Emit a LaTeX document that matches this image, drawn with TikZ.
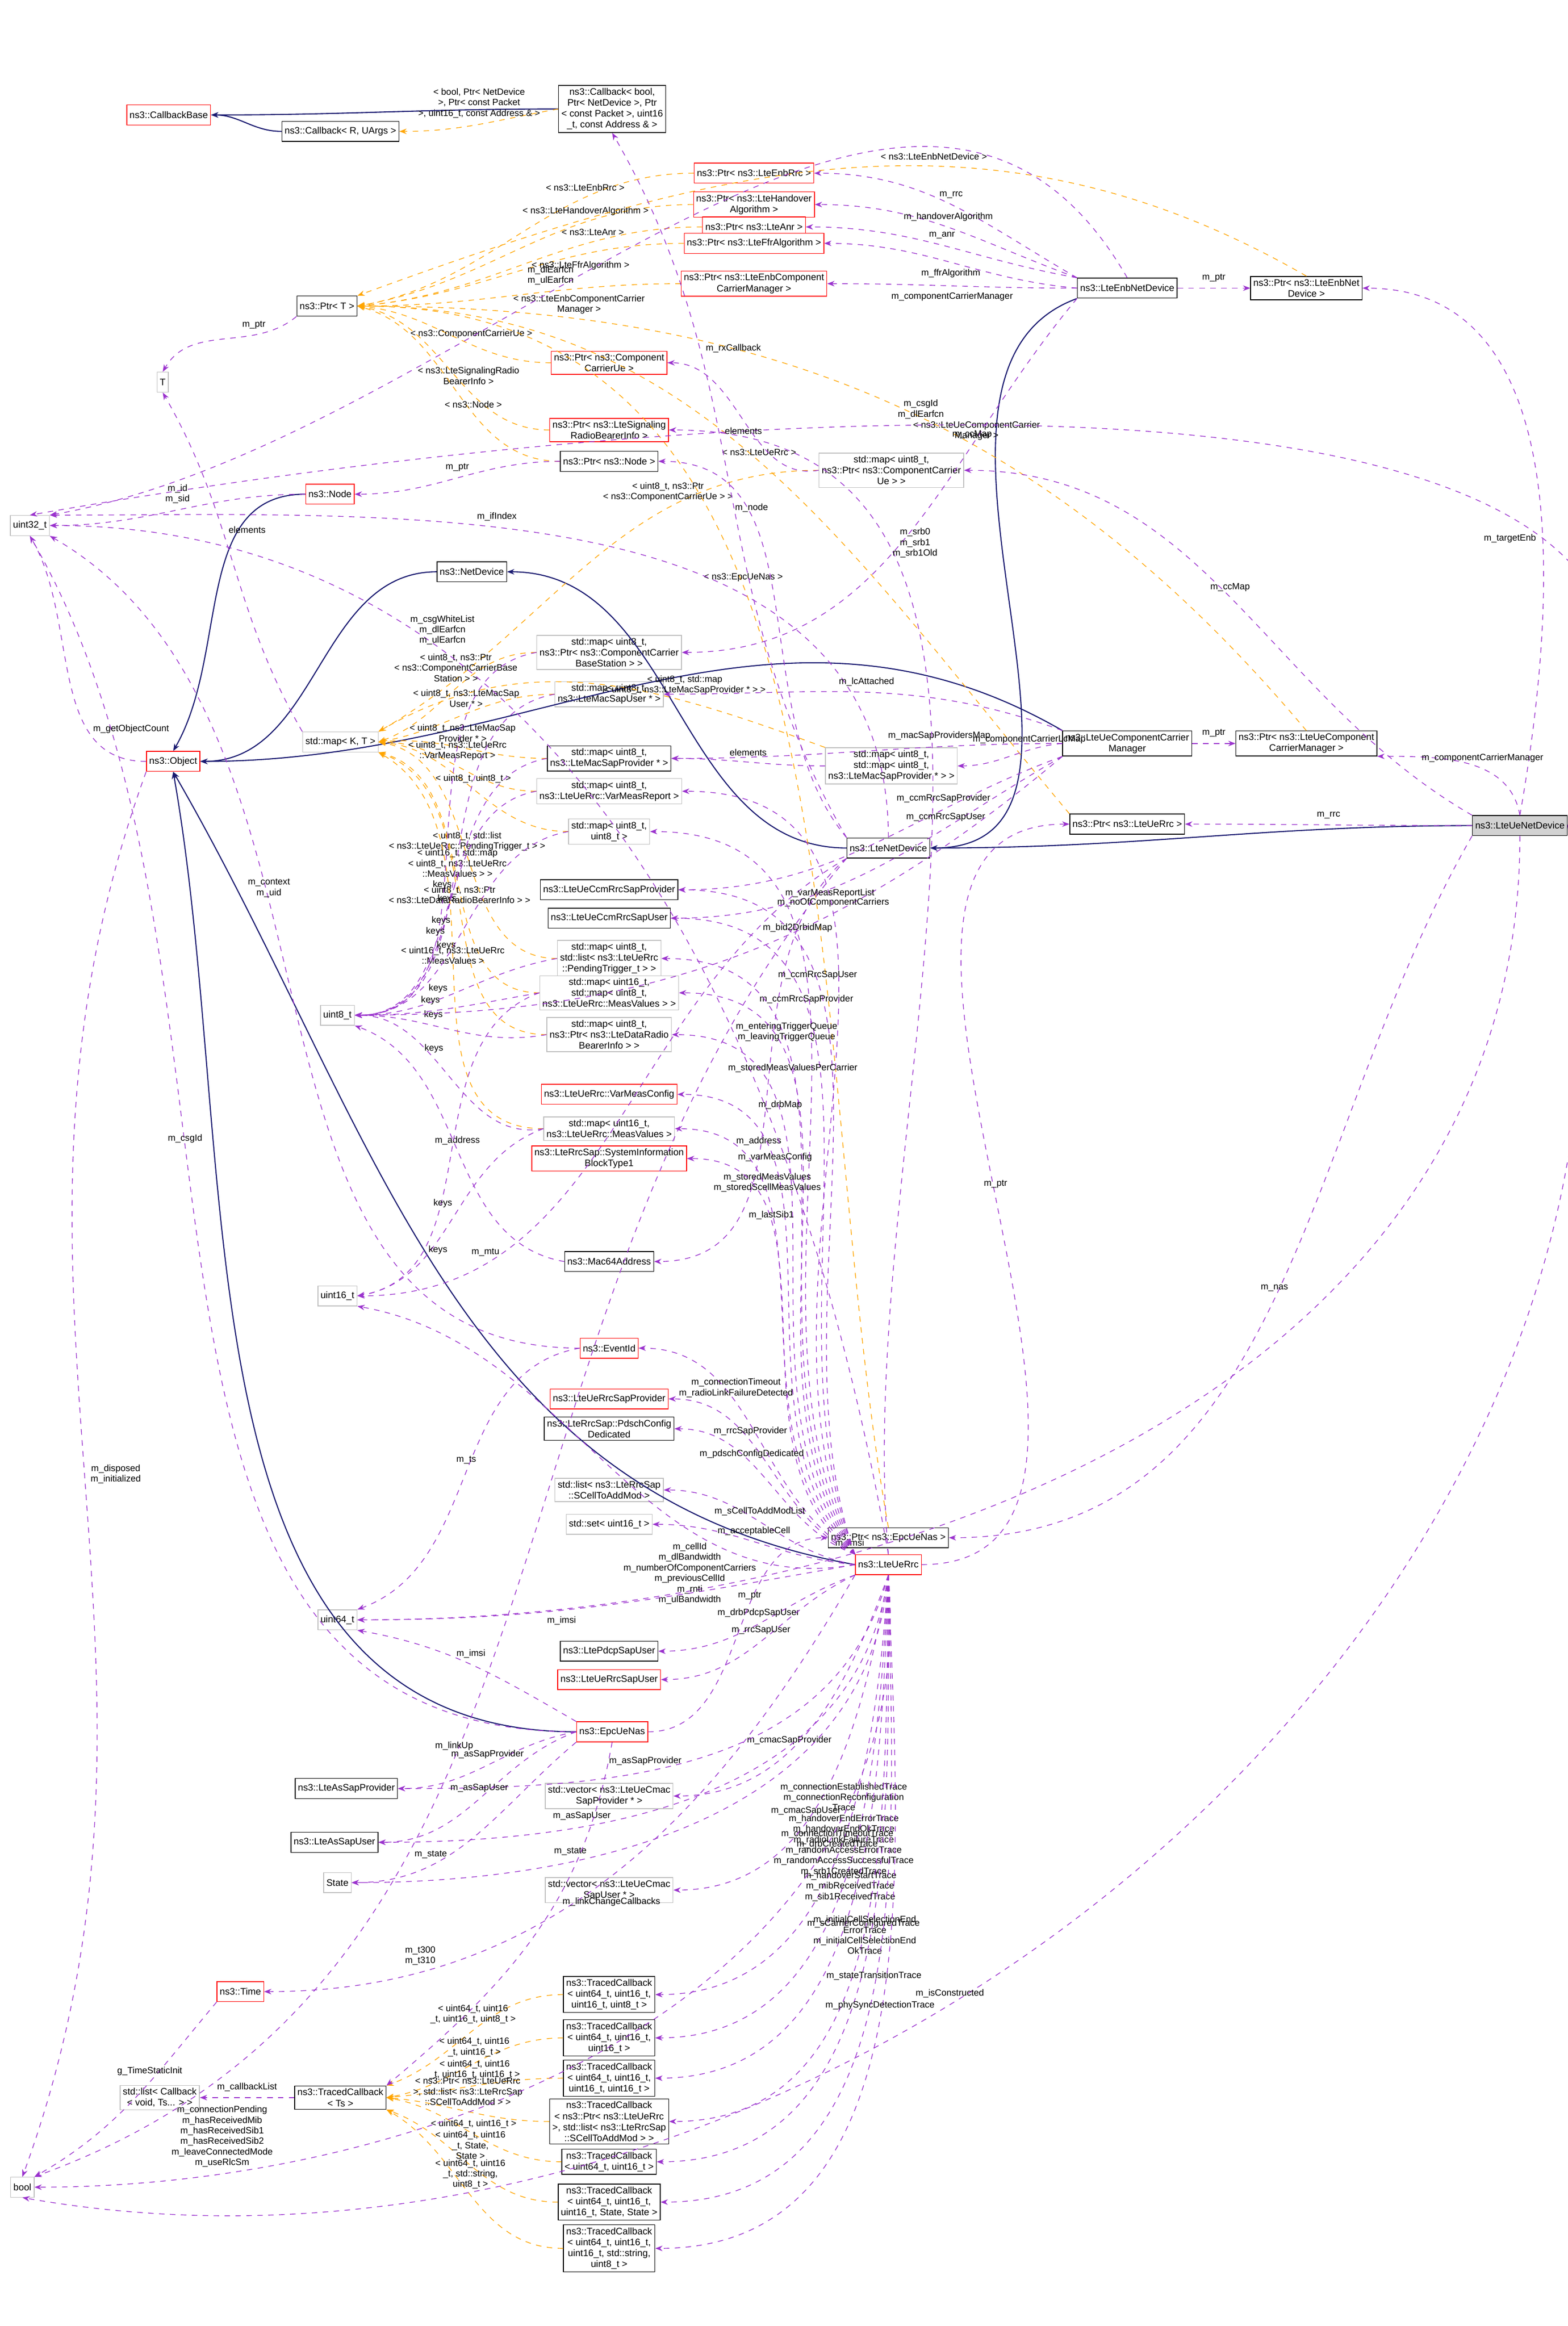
\documentclass[tikz,border=0pt]{standalone}
\usepackage{fontspec}
\setmainfont{Liberation Sans}
\definecolor{dxPurple}{HTML}{9A32CD}
\definecolor{dxOrange}{HTML}{FFA500}
\definecolor{dxBlue}{HTML}{191970}
\definecolor{dxGrey}{HTML}{BFBFBF}
\usetikzlibrary{arrows.meta,positioning}

\begin{document}
\begin{tikzpicture}[x=0.02883cm, y=-0.02883cm,
  cls/.style={draw=black, fill=white, font=\fontsize{5.2}{6}\selectfont, align=center, inner sep=1.5pt, minimum height=11},
  undoc/.style={cls, draw=red},
  ext/.style={cls, draw=dxGrey},
  self/.style={cls, fill=dxGrey!70},
  lab/.style={font=\fontsize{5}{5.8}\selectfont, align=center, text=black},
  membr/.style={-{Stealth[length=4pt]}, dashed, color=dxPurple, thin},
  tmpl/.style={-{Stealth[length=4pt]}, dashed, color=dxOrange, thin},
  inh/.style={-{Stealth[length=4pt,open]}, color=dxBlue, semithick}
]
  \useasboundingbox (0,0) rectangle (1050,1558);
  % ---- left column
  \node[ext] (u32) at (20,352) {uint32\_t};
  \node[ext] (bool) at (15,1465) {bool};
  \node[ext] (T) at (109,256) {T};
  \node[undoc] (cbbase) at (113,77) {ns3::CallbackBase};
  \node[cls] (cbT) at (228,88) {ns3::Callback< R, UArgs >};
  \node[cls] (cbBool) at (410,73) {ns3::Callback< bool,\\ Ptr< NetDevice >, Ptr\\< const Packet >, uint16\\\_t, const Address \& >};
  \node[cls] (ptrT) at (219,205) {ns3::Ptr< T >};
  \node[undoc] (node) at (221,331) {ns3::Node};
  \node[cls] (netdev) at (316,383) {ns3::NetDevice};
  \node[undoc] (object) at (116,510) {ns3::Object};
  \node[ext] (mapKT) at (228,497) {std::map< K, T >};
  \node[ext] (u8) at (226,680) {uint8\_t};
  \node[ext] (u16) at (226,868) {uint16\_t};
  \node[ext] (u64) at (226,1085) {uint64\_t};
  \node[cls] (asprov) at (232,1198) {ns3::LteAsSapProvider};
  \node[cls] (asuser) at (224,1234) {ns3::LteAsSapUser};
  \node[ext] (state) at (226,1261) {State};
  \node[undoc] (time) at (161,1334) {ns3::Time};
  \node[ext] (cblist) at (107,1405) {std::list< Callback\\< void, Ts... > >};
  \node[cls] (traced) at (228,1405) {ns3::TracedCallback\\< Ts >};
  % ---- middle column
  \node[undoc] (pEnbRrc) at (505,116) {ns3::Ptr< ns3::LteEnbRrc >};
  \node[undoc] (pHo) at (505,137) {ns3::Ptr< ns3::LteHandover\\Algorithm >};
  \node[undoc] (pAnr) at (505,152) {ns3::Ptr< ns3::LteAnr >};
  \node[undoc] (pFfr) at (505,163) {ns3::Ptr< ns3::LteFfrAlgorithm >};
  \node[undoc] (pEnbCcm) at (505,190) {ns3::Ptr< ns3::LteEnbComponent\\CarrierManager >};
  \node[undoc] (pCcUe) at (408,243) {ns3::Ptr< ns3::Component\\CarrierUe >};
  \node[undoc] (pSrb) at (408,288) {ns3::Ptr< ns3::LteSignaling\\RadioBearerInfo >};
  \node[cls] (pNode) at (408,309) {ns3::Ptr< ns3::Node >};
  \node[ext] (mCcUe) at (597,315) {std::map< uint8\_t,\\ ns3::Ptr< ns3::ComponentCarrier\\Ue > >};
  \node[ext] (mCcBs) at (408,437) {std::map< uint8\_t,\\ ns3::Ptr< ns3::ComponentCarrier\\BaseStation > >};
  \node[ext] (mMacUser) at (408,465) {std::map< uint8\_t,\\ ns3::LteMacSapUser * >};
  \node[cls] (mMacProv) at (408,508) {std::map< uint8\_t,\\ ns3::LteMacSapProvider * >};
  \node[ext] (mMap) at (597,513) {std::map< uint8\_t,\\ std::map< uint8\_t,\\ ns3::LteMacSapProvider * > >};
  \node[ext] (mVmr) at (408,530) {std::map< uint8\_t,\\ ns3::LteUeRrc::VarMeasReport >};
  \node[ext] (m88) at (408,557) {std::map< uint8\_t,\\ uint8\_t >};
  \node[cls] (ccmProv) at (408,596) {ns3::LteUeCcmRrcSapProvider};
  \node[cls] (ccmUser) at (408,615) {ns3::LteUeCcmRrcSapUser};
  \node[ext] (mPend) at (408,642) {std::map< uint8\_t,\\ std::list< ns3::LteUeRrc\\::PendingTrigger\_t > >};
  \node[ext] (mMeas16) at (408,665) {std::map< uint16\_t,\\ std::map< uint8\_t,\\ ns3::LteUeRrc::MeasValues > >};
  \node[ext] (mDrb) at (408,693) {std::map< uint8\_t,\\ ns3::Ptr< ns3::LteDataRadio\\BearerInfo > >};
  \node[undoc] (vmc) at (408,733) {ns3::LteUeRrc::VarMeasConfig};
  \node[ext] (mMeas) at (408,756) {std::map< uint16\_t,\\ ns3::LteUeRrc::MeasValues >};
  \node[undoc] (sib1) at (408,776) {ns3::LteRrcSap::SystemInformation\\BlockType1};
  \node[cls] (mac64) at (408,845) {ns3::Mac64Address};
  \node[undoc] (evid) at (408,903) {ns3::EventId};
  \node[undoc] (rrcProv) at (408,937) {ns3::LteUeRrcSapProvider};
  \node[cls] (pdsch) at (408,957) {ns3::LteRrcSap::PdschConfig\\Dedicated};
  \node[ext] (scList) at (408,998) {std::list< ns3::LteRrcSap\\::SCellToAddMod >};
  \node[ext] (set16) at (408,1021) {std::set< uint16\_t >};
  \node[cls] (pdcpUser) at (408,1106) {ns3::LtePdcpSapUser};
  \node[undoc] (rrcUser) at (408,1125) {ns3::LteUeRrcSapUser};
  \node[undoc] (nas) at (410,1160) {ns3::EpcUeNas};
  \node[ext] (vCmacP) at (408,1203) {std::vector< ns3::LteUeCmac\\SapProvider * >};
  \node[ext] (vCmacU) at (408,1266) {std::vector< ns3::LteUeCmac\\SapUser * >};
  \node[cls] (tc1) at (408,1336) {ns3::TracedCallback\\< uint64\_t, uint16\_t,\\ uint16\_t, uint8\_t >};
  \node[cls] (tc2) at (408,1365) {ns3::TracedCallback\\< uint64\_t, uint16\_t,\\ uint16\_t >};
  \node[cls] (tc3) at (408,1392) {ns3::TracedCallback\\< uint64\_t, uint16\_t,\\ uint16\_t, uint16\_t >};
  \node[cls] (tc4) at (408,1421) {ns3::TracedCallback\\< ns3::Ptr< ns3::LteUeRrc\\ >, std::list< ns3::LteRrcSap\\::SCellToAddMod > >};
  \node[cls] (tc5) at (408,1448) {ns3::TracedCallback\\< uint64\_t, uint16\_t >};
  \node[cls] (tc6) at (408,1475) {ns3::TracedCallback\\< uint64\_t, uint16\_t,\\ uint16\_t, State, State >};
  \node[cls] (tc7) at (408,1506) {ns3::TracedCallback\\< uint64\_t, uint16\_t,\\ uint16\_t, std::string,\\ uint8\_t >};
  % ---- right columns
  \node[cls] (enbdev) at (755,193) {ns3::LteEnbNetDevice};
  \node[cls] (pEnbDev) at (875,193) {ns3::Ptr< ns3::LteEnbNet\\Device >};
  \node[cls] (ueccm) at (755,498) {ns3::LteUeComponentCarrier\\Manager};
  \node[cls] (pUeCcm) at (875,498) {ns3::Ptr< ns3::LteUeComponent\\CarrierManager >};
  \node[cls] (pUeRrc) at (755,552) {ns3::Ptr< ns3::LteUeRrc >};
  \node[cls] (ltedev) at (595,568) {ns3::LteNetDevice};
  \node[cls] (pNas) at (595,1030) {ns3::Ptr< ns3::EpcUeNas >};
  \node[undoc] (uerrc) at (595,1048) {ns3::LteUeRrc};
  \node[self] (uedev) at (1018,553) {ns3::LteUeNetDevice};
  % ---- inheritance
  \draw[inh] (uedev.west) to[out=180,in=0] (ltedev.east);
  \draw[inh] (enbdev.south west) to[out=200,in=0] (ltedev.east);
  \draw[inh] (ltedev.west) to[out=180,in=0] (netdev.east);
  \draw[inh] (netdev.west) to[out=180,in=0] (object.east);
  \draw[inh] (node.west) to[out=180,in=60] (object.north);
  \draw[inh] (ueccm.north west) to[out=150,in=0] (object.east);
  \draw[inh] (uerrc.west) to[out=170,in=-60] (object.south);
  \draw[inh] (nas.west) to[out=180,in=-80] (object.south);
  \draw[inh] (cbT.west) to[out=180,in=0] (cbbase.east);
  \draw[inh] (cbBool.west) to[out=180,in=0] (cbbase.east);
  % ---- template instances
  \draw[tmpl] (cbBool.west) to[out=190,in=0] node[lab,above]{< bool, Ptr< NetDevice\\ >, Ptr< const Packet\\ >, uint16\_t, const Address \& >} (cbT.east);
  \draw[tmpl] (pEnbRrc.west) to[out=180,in=10] node[lab,above,pos=0.3]{< ns3::LteEnbRrc >} (ptrT.east);
  \draw[tmpl] (pHo.west) to[out=180,in=10] node[lab,above,pos=0.3]{< ns3::LteHandoverAlgorithm >} (ptrT.east);
  \draw[tmpl] (pAnr.west) to[out=180,in=5] node[lab,above,pos=0.3]{< ns3::LteAnr >} (ptrT.east);
  \draw[tmpl] (pFfr.west) to[out=180,in=5] node[lab,below,pos=0.3]{< ns3::LteFfrAlgorithm >} (ptrT.east);
  \draw[tmpl] (pEnbCcm.west) to[out=180,in=0] node[lab,below,pos=0.3]{< ns3::LteEnbComponentCarrier\\Manager >} (ptrT.east);
  \draw[tmpl] (pCcUe.west) to[out=180,in=-5] node[lab,above,pos=0.4]{< ns3::ComponentCarrierUe >} (ptrT.east);
  \draw[tmpl] (pSrb.west) to[out=180,in=-10] node[lab,above,pos=0.4]{< ns3::LteSignalingRadio\\BearerInfo >} (ptrT.east);
  \draw[tmpl] (pNode.west) to[out=180,in=-15] node[lab,above,pos=0.4]{< ns3::Node >} (ptrT.east);
  \draw[tmpl] (pEnbDev.north) to[out=150,in=20] node[lab,above,pos=0.4]{< ns3::LteEnbNetDevice >} (ptrT.north east);
  \draw[tmpl] (pUeCcm.north) to[out=130,in=0] node[lab,above,pos=0.4]{< ns3::LteUeComponentCarrier\\Manager >} (ptrT.east);
  \draw[tmpl] (pUeRrc.north west) to[out=130,in=0] node[lab,above,pos=0.5]{< ns3::LteUeRrc >} (ptrT.east);
  \draw[tmpl] (pNas.north) to[out=100,in=0] node[lab,above,pos=0.6]{< ns3::EpcUeNas >} (ptrT.east);
  \draw[tmpl] (mCcUe.west) to[out=180,in=30] node[lab,above,pos=0.3]{< uint8\_t, ns3::Ptr\\< ns3::ComponentCarrierUe > >} (mapKT.north east);
  \draw[tmpl] (mMap.north west) to[out=160,in=30] node[lab,above,pos=0.3]{< uint8\_t, std::map\\< uint8\_t, ns3::LteMacSapProvider * > >} (mapKT.north east);
  \draw[tmpl] (mCcBs.west) to[out=180,in=20] node[lab,above]{< uint8\_t, ns3::Ptr\\< ns3::ComponentCarrierBase\\Station > >} (mapKT.east);
  \draw[tmpl] (mMacUser.west) to[out=180,in=10] node[lab,above]{< uint8\_t, ns3::LteMacSap\\User * >} (mapKT.east);
  \draw[tmpl] (mMacProv.west) to[out=180,in=5] node[lab,above]{< uint8\_t, ns3::LteMacSap\\Provider * >} (mapKT.east);
  \draw[tmpl] (mVmr.west) to[out=180,in=0] node[lab,above]{< uint8\_t, ns3::LteUeRrc\\::VarMeasReport >} (mapKT.east);
  \draw[tmpl] (m88.west) to[out=180,in=-5] node[lab,above]{< uint8\_t, uint8\_t >} (mapKT.east);
  \draw[tmpl] (mPend.west) to[out=180,in=-10] node[lab,above]{< uint8\_t, std::list\\< ns3::LteUeRrc::PendingTrigger\_t > >} (mapKT.east);
  \draw[tmpl] (mMeas16.west) to[out=180,in=-15] node[lab,above]{< uint16\_t, std::map\\< uint8\_t, ns3::LteUeRrc\\::MeasValues > >} (mapKT.south east);
  \draw[tmpl] (mDrb.west) to[out=180,in=-20] node[lab,above]{< uint8\_t, ns3::Ptr\\< ns3::LteDataRadioBearerInfo > >} (mapKT.south east);
  \draw[tmpl] (mMeas.west) to[out=180,in=-30] node[lab,above]{< uint16\_t, ns3::LteUeRrc\\::MeasValues >} (mapKT.south east);
  \draw[tmpl] (tc1.west) to[out=180,in=20] node[lab,above]{< uint64\_t, uint16\\\_t, uint16\_t, uint8\_t >} (traced.north east);
  \draw[tmpl] (tc2.west) to[out=180,in=10] node[lab,above]{< uint64\_t, uint16\\\_t, uint16\_t >} (traced.east);
  \draw[tmpl] (tc3.west) to[out=180,in=5] node[lab,above]{< uint64\_t, uint16\\\_t, uint16\_t, uint16\_t >} (traced.east);
  \draw[tmpl] (tc4.west) to[out=180,in=-5] node[lab,above]{< ns3::Ptr< ns3::LteUeRrc\\ >, std::list< ns3::LteRrcSap\\::SCellToAddMod > >} (traced.east);
  \draw[tmpl] (tc5.west) to[out=180,in=-10] node[lab,above]{< uint64\_t, uint16\_t >} (traced.east);
  \draw[tmpl] (tc6.west) to[out=180,in=-20] node[lab,above]{< uint64\_t, uint16\\\_t, State,\\ State >} (traced.south east);
  \draw[tmpl] (tc7.west) to[out=180,in=-30] node[lab,above]{< uint64\_t, uint16\\\_t, std::string,\\ uint8\_t >} (traced.south east);
  % ---- members of LteUeNetDevice
  \draw[membr] (uedev.east) to[out=60,in=10] node[lab,above,pos=0.6]{m\_csgId\\m\_dlEarfcn} (u32.north);
  \draw[membr] (uedev.north) to[out=80,in=0] node[lab,left,pos=0.4]{m\_targetEnb} (pEnbDev.east);
  \draw[membr] (uedev.north) to[out=100,in=0] node[lab,above,pos=0.4]{m\_componentCarrierManager} (pUeCcm.south east);
  \draw[membr] (uedev.west) to[out=180,in=0] node[lab,above,pos=0.5]{m\_rrc} (pUeRrc.east);
  \draw[membr] (uedev.north west) to[out=150,in=0] node[lab,above,pos=0.5]{m\_ccMap} (mCcUe.east);
  \draw[membr] (uedev.south west) to[out=240,in=0] node[lab,above,pos=0.5]{m\_nas} (pNas.east);
  \draw[membr] (uedev.south) to[out=-90,in=0] node[lab,above,pos=0.7]{m\_imsi} (u64.east);
  \draw[membr] (uedev.east) to[out=-80,in=-10] node[lab,above,pos=0.6]{m\_isConstructed} (bool.south);
  % ---- members of LteEnbNetDevice
  \draw[membr] (enbdev.north) to[out=120,in=10] node[lab,above,pos=0.6]{m\_dlEarfcn\\m\_ulEarfcn} (u32.north east);
  \draw[membr] (enbdev.east) to[out=0,in=180] node[lab,above]{m\_ptr} (pEnbDev.west);
  \draw[membr] (enbdev.north west) to[out=150,in=0] node[lab,above]{m\_rrc} (pEnbRrc.east);
  \draw[membr] (enbdev.north west) to[out=160,in=0] node[lab,above]{m\_handoverAlgorithm} (pHo.east);
  \draw[membr] (enbdev.north west) to[out=170,in=0] node[lab,above]{m\_anr} (pAnr.east);
  \draw[membr] (enbdev.west) to[out=175,in=0] node[lab,below]{m\_ffrAlgorithm} (pFfr.east);
  \draw[membr] (enbdev.west) to[out=180,in=0] node[lab,below]{m\_componentCarrierManager} (pEnbCcm.east);
  \draw[membr] (enbdev.south west) to[out=230,in=0] node[lab,above,pos=0.3]{m\_ccMap} (mCcBs.east);
  % ---- members of LteNetDevice
  \draw[membr] (ltedev.north) to[out=90,in=0] node[lab,above,pos=0.6]{m\_ifIndex} (u32.north east);
  \draw[membr] (ltedev.north west) to[out=120,in=-60] node[lab,right,pos=0.7]{m\_rxCallback} (cbBool.south);
  \draw[membr] (ltedev.north west) to[out=130,in=0] node[lab,above,pos=0.7]{m\_node} (pNode.east);
  \draw[membr] (ltedev.south west) to[out=210,in=0] node[lab,above,pos=0.8]{m\_mtu} (u16.east);
  \draw[membr] (ltedev.south west) to[out=220,in=0] node[lab,above,pos=0.6]{m\_address} (mac64.east);
  \draw[membr] (ltedev.south west) to[out=230,in=20] node[lab,above,pos=0.6]{m\_linkUp} (bool.north east);
  % ---- basic members
  \draw[membr] (ptrT.south west) to[out=220,in=60] node[lab,above,pos=0.3]{m\_ptr} (T.north);
  \draw[membr] (mapKT.north west) to[out=120,in=-60] node[lab,right,pos=0.6]{elements} (T.south);
  \draw[membr] (pNode.west) to[out=180,in=0] node[lab,above]{m\_ptr} (node.east);
  \draw[membr] (node.west) to[out=180,in=0] node[lab,above]{m\_id\\m\_sid} (u32.east);
  \draw[membr] (object.west) to[out=180,in=-60] node[lab,right,pos=0.3]{m\_getObjectCount} (u32.south);
  \draw[membr] (object.south west) to[out=250,in=70] node[lab,right,pos=0.5]{m\_disposed\\m\_initialized} (bool.north);
  \draw[membr] (evid.west) to[out=180,in=-30] node[lab,above,pos=0.6]{m\_context\\m\_uid} (u32.south east);
  \draw[membr] (evid.west) to[out=190,in=20] node[lab,above,pos=0.5]{m\_ts} (u64.north east);
  \draw[membr] (mac64.west) to[out=170,in=-20] node[lab,above,pos=0.5]{m\_address} (u8.south east);
  \draw[membr] (mCcUe.west) to[out=190,in=0] node[lab,below,pos=0.5]{elements} (pCcUe.east);
  \draw[membr] (mMap.west) to[out=180,in=0] node[lab,above]{elements} (mMacProv.east);
  \draw[membr] (traced.west) to[out=180,in=0] node[lab,above]{m\_callbackList} (cblist.east);
  \draw[membr] (time.south west) to[out=230,in=30] node[lab,above,pos=0.4]{g\_TimeStaticInit} (bool.north east);
  \foreach \m in {mCcBs,mMacUser,mMacProv,mVmr,m88,mPend,mMeas16,mDrb,mMeas}
    \draw[membr] (\m.west) to[out=190,in=0] node[lab,above,pos=0.6]{keys} (u8.east);
  \draw[membr] (mMeas16.west) to[out=200,in=10] node[lab,below,pos=0.6]{keys} (u16.east);
  \draw[membr] (mMeas.west) to[out=200,in=10] node[lab,below,pos=0.6]{keys} (u16.east);
  % ---- members of LteUeComponentCarrierManager
  \draw[membr] (ueccm.east) to[out=0,in=180] node[lab,above]{m\_ptr} (pUeCcm.west);
  \draw[membr] (ueccm.north west) to[out=160,in=0] node[lab,above]{m\_lcAttached} (mMacUser.east);
  \draw[membr] (ueccm.west) to[out=180,in=0] node[lab,above,pos=0.3]{m\_macSapProvidersMap} (mMacProv.east);
  \draw[membr] (ueccm.west) to[out=185,in=0] node[lab,above,pos=0.3]{m\_componentCarrierLcMap} (mMap.east);
  \draw[membr] (ueccm.south west) to[out=200,in=0] node[lab,above,pos=0.3]{m\_ccmRrcSapProvider} (ccmProv.east);
  \draw[membr] (ueccm.south west) to[out=210,in=0] node[lab,above,pos=0.3]{m\_ccmRrcSapUser} (ccmUser.east);
  \draw[membr] (ueccm.south west) to[out=220,in=0] node[lab,above,pos=0.35]{m\_noOfComponentCarriers} (u8.east);
  % ---- members of LteUeRrc
  \draw[membr] (uerrc.east) to[out=0,in=180] node[lab,above]{m\_ptr} (pUeRrc.west);
  \draw[membr] (uerrc.north) to[out=95,in=0] node[lab,right,pos=0.75]{m\_srb0\\m\_srb1\\m\_srb1Old} (pSrb.east);
  \draw[membr] (uerrc.north) to[out=100,in=0] node[lab,above,pos=0.7]{m\_csgWhiteList\\m\_dlEarfcn\\m\_ulEarfcn} (u32.east);
  \draw[membr] (uerrc.north west) to[out=110,in=0] node[lab,above,pos=0.7]{m\_ccmRrcSapUser} (ccmProv.east);
  \draw[membr] (uerrc.north west) to[out=112,in=0] node[lab,above,pos=0.7]{m\_ccmRrcSapProvider} (ccmUser.east);
  \draw[membr] (uerrc.north west) to[out=115,in=0] node[lab,above,pos=0.7]{m\_varMeasReportList} (mVmr.east);
  \draw[membr] (uerrc.north west) to[out=118,in=0] node[lab,above,pos=0.7]{m\_bid2DrbidMap} (m88.east);
  \draw[membr] (uerrc.north west) to[out=122,in=0] node[lab,above,pos=0.7]{m\_enteringTriggerQueue\\m\_leavingTriggerQueue} (mPend.east);
  \draw[membr] (uerrc.north west) to[out=126,in=0] node[lab,above,pos=0.7]{m\_storedMeasValuesPerCarrier} (mMeas16.east);
  \draw[membr] (uerrc.north west) to[out=130,in=0] node[lab,above,pos=0.7]{m\_drbMap} (mDrb.east);
  \draw[membr] (uerrc.north west) to[out=135,in=0] node[lab,above,pos=0.7]{m\_varMeasConfig} (vmc.east);
  \draw[membr] (uerrc.north west) to[out=140,in=0] node[lab,above,pos=0.7]{m\_storedMeasValues\\m\_storedScellMeasValues} (mMeas.east);
  \draw[membr] (uerrc.north west) to[out=145,in=0] node[lab,above,pos=0.7]{m\_lastSib1} (sib1.east);
  \draw[membr] (uerrc.north west) to[out=150,in=0] node[lab,above,pos=0.6]{m\_connectionTimeout\\m\_radioLinkFailureDetected} (evid.east);
  \draw[membr] (uerrc.north west) to[out=155,in=0] node[lab,above,pos=0.6]{m\_rrcSapProvider} (rrcProv.east);
  \draw[membr] (uerrc.north west) to[out=160,in=0] node[lab,above,pos=0.6]{m\_pdschConfigDedicated} (pdsch.east);
  \draw[membr] (uerrc.west) to[out=170,in=0] node[lab,above,pos=0.5]{m\_sCellToAddModList} (scList.east);
  \draw[membr] (uerrc.west) to[out=175,in=0] node[lab,above,pos=0.5]{m\_acceptableCell} (set16.east);
  \draw[membr] (uerrc.west) to[out=190,in=-10] (u16.south east);
  \node[lab] (lblCell) at (462,1054) {m\_cellId\\m\_dlBandwidth\\m\_numberOfComponentCarriers\\m\_previousCellId\\m\_rnti\\m\_ulBandwidth};
  \draw[membr] (uerrc.west) to[out=190,in=0] node[lab,below,pos=0.6]{m\_imsi} (u64.east);
  \draw[membr] (uerrc.south west) to[out=200,in=0] node[lab,above,pos=0.5]{m\_drbPdcpSapUser} (pdcpUser.east);
  \draw[membr] (uerrc.south west) to[out=205,in=0] node[lab,above,pos=0.5]{m\_rrcSapUser} (rrcUser.east);
  \draw[membr] (uerrc.south) to[out=250,in=0] node[lab,above,pos=0.6]{m\_cmacSapProvider} (vCmacP.east);
  \draw[membr] (uerrc.south) to[out=255,in=0] node[lab,above,pos=0.6]{m\_asSapProvider} (asprov.east);
  \draw[membr] (uerrc.south) to[out=260,in=0] node[lab,above,pos=0.6]{m\_cmacSapUser} (vCmacU.east);
  \draw[membr] (uerrc.south) to[out=262,in=0] node[lab,above,pos=0.7]{m\_asSapUser} (asuser.east);
  \draw[membr] (uerrc.south) to[out=265,in=0] node[lab,above,pos=0.7]{m\_state} (state.east);
  \draw[membr] (uerrc.south) to[out=266,in=0] node[lab,above,pos=0.5]{m\_connectionTimeoutTrace\\m\_drbCreatedTrace} (tc1.east);
  \draw[membr] (uerrc.south) to[out=267,in=0] node[lab,above,pos=0.5]{m\_connectionEstablishedTrace\\m\_connectionReconfiguration\\Trace\\m\_handoverEndErrorTrace\\m\_handoverEndOkTrace\\m\_radioLinkFailureTrace\\m\_randomAccessErrorTrace\\m\_randomAccessSuccessfulTrace\\m\_srb1CreatedTrace} (tc2.east);
  \draw[membr] (uerrc.south) to[out=268,in=0] node[lab,above,pos=0.5]{m\_handoverStartTrace\\m\_mibReceivedTrace\\m\_sib1ReceivedTrace} (tc3.east);
  \draw[membr] (uerrc.south) to[out=269,in=0] node[lab,above,pos=0.5]{m\_sCarrierConfiguredTrace} (tc4.east);
  \draw[membr] (uerrc.south) to[out=270,in=0] node[lab,above,pos=0.5]{m\_initialCellSelectionEnd\\ErrorTrace\\m\_initialCellSelectionEnd\\OkTrace} (tc5.east);
  \draw[membr] (uerrc.south) to[out=271,in=0] node[lab,above,pos=0.5]{m\_stateTransitionTrace} (tc6.east);
  \draw[membr] (uerrc.south) to[out=272,in=0] node[lab,above,pos=0.5]{m\_phySyncDetectionTrace} (tc7.east);
  \draw[membr] (uerrc.south) to[out=275,in=0] node[lab,above,pos=0.85]{m\_connectionPending\\m\_hasReceivedMib\\m\_hasReceivedSib1\\m\_hasReceivedSib2\\m\_leaveConnectedMode\\m\_useRlcSm} (bool.east);
  \draw[membr] (uerrc.south west) to[out=240,in=0] node[lab,above,pos=0.8]{m\_t300\\m\_t310} (time.east);
  % ---- members of EpcUeNas
  \draw[membr] (nas.east) to[out=0,in=180] node[lab,above,pos=0.6]{m\_ptr} (pNas.west);
  \draw[membr] (nas.north west) to[out=150,in=-10] node[lab,above]{m\_imsi} (u64.south east);
  \draw[membr] (nas.west) to[out=180,in=-60] node[lab,above,pos=0.6]{m\_csgId} (u32.south);
  \draw[membr] (nas.west) to[out=190,in=0] node[lab,above]{m\_asSapProvider} (asprov.east);
  \draw[membr] (nas.west) to[out=200,in=0] node[lab,above]{m\_asSapUser} (asuser.east);
  \draw[membr] (nas.south west) to[out=220,in=0] node[lab,above,pos=0.7]{m\_state} (state.east);
  \draw[membr] (nas.south) to[out=260,in=40] node[lab,right,pos=0.4]{m\_linkChangeCallbacks} (traced.north east);
\end{tikzpicture}
\end{document}
